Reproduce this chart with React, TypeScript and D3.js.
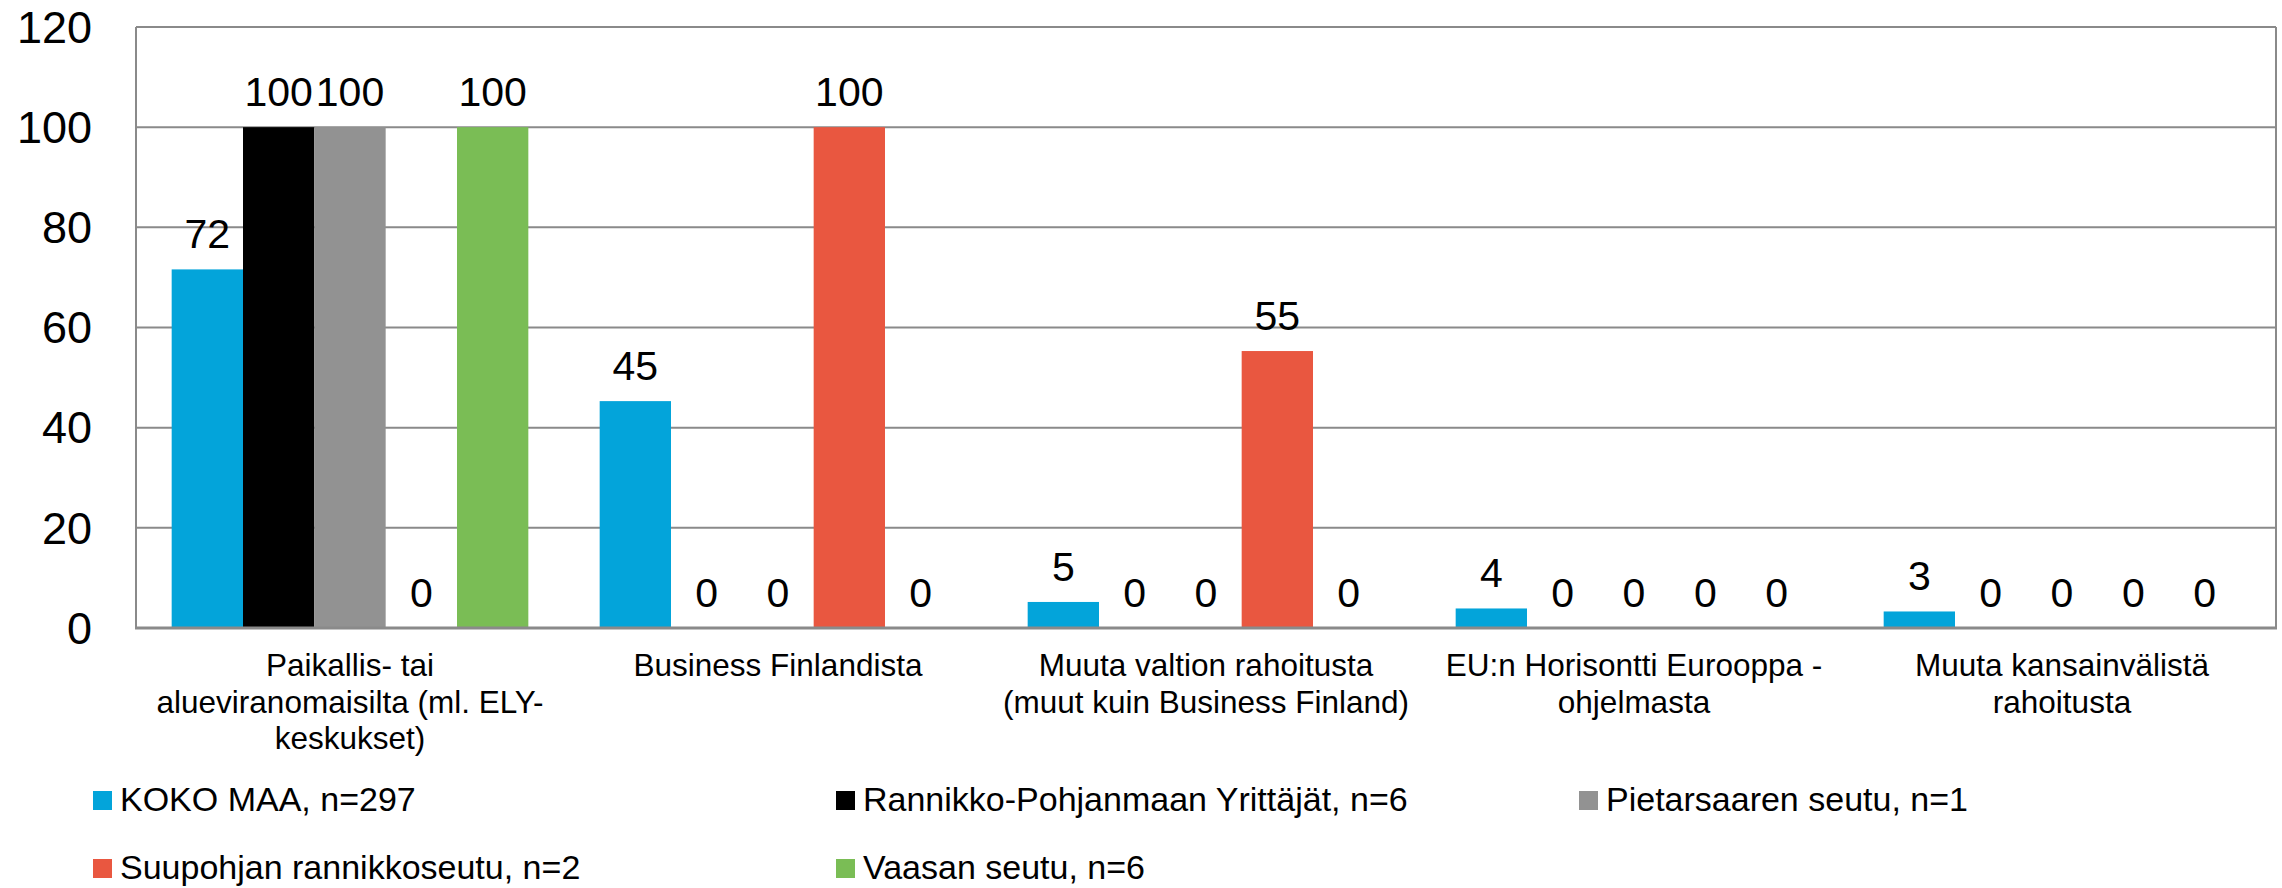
import React, { useEffect, useRef } from 'react';
import { select, scaleBand, scaleLinear, format } from 'd3';

// categories (line breaks as in the original chart)
const categories = [
  'Paikallis- tai\nalueviranomaisilta (ml. ELY-\nkeskukset)',
  'Business Finlandista',
  'Muuta valtion rahoitusta\n(muut kuin Business Finland)',
  'EU:n Horisontti Eurooppa -\nohjelmasta',
  'Muuta kansainvälistä\nrahoitusta',
];

const seriesNames = [
  'KOKO MAA, n=297',
  'Rannikko-Pohjanmaan Yrittäjät, n=6',
  'Pietarsaaren seutu, n=1',
  'Suupohjan rannikkoseutu, n=2',
  'Vaasan seutu, n=6',
];

const kokoMaa = [71.6, 45.3, 5.2, 3.9, 3.3];
const rannikko = [100, 0, 0, 0, 0];
const pietarsaari = [100, 0, 0, 0, 0];
const suupohja = [0, 100, 55.3, 0, 0];
const vaasa = [100, 0, 0, 0, 0];

const seriesValues = [kokoMaa, rannikko, pietarsaari, suupohja, vaasa];
const seriesColors = ['#03a4da', '#000000', '#929292', '#e95740', '#7abd55'];

const yTicks = [0, 20, 40, 60, 80, 100, 120];

const W = 2282;
const H = 888;
const FONT = '"Liberation Sans", Arial, sans-serif';

const App = () => {
  const svgRef = useRef(null);

  useEffect(() => {
    document.body.style.margin = '0';
    const svg = select(svgRef.current);
    svg.selectAll('*').remove();

    const left = 136, right = 2276, top = 27, bottom = 628;

    const x0 = scaleBand().domain(categories).range([left, right]).padding(0);
    const x1 = scaleBand()
      .domain(seriesNames)
      .range([0, x0.bandwidth()])
      .paddingInner(0)
      .paddingOuter(0.5);
    const y = scaleLinear().domain([0, 120]).range([bottom, top]);
    const fmt = format('.0f');

    // gridlines
    svg.append('g')
      .selectAll('line')
      .data(yTicks.filter(t => t > 0))
      .join('line')
      .attr('x1', left)
      .attr('x2', right)
      .attr('y1', d => y(d))
      .attr('y2', d => y(d))
      .attr('stroke', '#8a8a8a')
      .attr('stroke-width', 2);

    // plot frame left/right
    svg.append('line')
      .attr('x1', left).attr('x2', left)
      .attr('y1', y(120)).attr('y2', y(0))
      .attr('stroke', '#8a8a8a').attr('stroke-width', 2);
    svg.append('line')
      .attr('x1', right).attr('x2', right)
      .attr('y1', y(120)).attr('y2', y(0))
      .attr('stroke', '#8a8a8a').attr('stroke-width', 2);

    // y tick labels
    svg.append('g')
      .selectAll('text')
      .data(yTicks)
      .join('text')
      .attr('x', 92)
      .attr('y', d => y(d))
      .attr('dy', '0.35em')
      .attr('text-anchor', 'end')
      .attr('font-family', FONT)
      .attr('font-size', 45)
      .attr('fill', '#000')
      .text(d => d);

    // bars
    const groups = svg.append('g')
      .selectAll('g')
      .data(categories)
      .join('g')
      .attr('transform', d => `translate(${x0(d)},0)`);

    groups.selectAll('rect')
      .data((d, i) => seriesNames.map((s, j) => ({ s, v: seriesValues[j][i], c: seriesColors[j] })))
      .join('rect')
      .attr('x', d => x1(d.s))
      .attr('y', d => y(d.v))
      .attr('width', x1.bandwidth())
      .attr('height', d => y(0) - y(d.v))
      .attr('fill', d => d.c);

    groups.selectAll('text')
      .data((d, i) => seriesNames.map((s, j) => ({ s, v: seriesValues[j][i] })))
      .join('text')
      .attr('x', d => x1(d.s) + x1.bandwidth() / 2)
      .attr('y', d => y(d.v) - 21)
      .attr('text-anchor', 'middle')
      .attr('font-family', FONT)
      .attr('font-size', 41)
      .attr('fill', '#000')
      .text(d => fmt(d.v));

    // zero axis
    svg.append('line')
      .attr('x1', left - 1).attr('x2', right + 1)
      .attr('y1', y(0)).attr('y2', y(0))
      .attr('stroke', '#8a8a8a').attr('stroke-width', 3);

    // category labels
    const catLabels = svg.append('g')
      .selectAll('text')
      .data(categories)
      .join('text')
      .attr('x', d => x0(d) + x0.bandwidth() / 2)
      .attr('y', 676)
      .attr('text-anchor', 'middle')
      .attr('font-family', FONT)
      .attr('font-size', 31.5)
      .attr('fill', '#000');
    catLabels.selectAll('tspan')
      .data(d => d.split('\n'))
      .join('tspan')
      .attr('x', function () { return select(this.parentNode).attr('x'); })
      .attr('dy', (d, i) => (i === 0 ? 0 : 36.5))
      .text(d => d);

    // legend
    const legend = svg.append('g')
      .selectAll('g')
      .data(seriesNames)
      .join('g')
      .attr('transform', (d, i) => `translate(${93 + (i % 3) * 743},${811 + Math.floor(i / 3) * 68})`);
    legend.append('rect')
      .attr('x', 0)
      .attr('y', -20)
      .attr('width', 19)
      .attr('height', 19)
      .attr('fill', (d, i) => seriesColors[i]);
    legend.append('text')
      .attr('x', 27)
      .attr('y', 0)
      .attr('font-family', FONT)
      .attr('font-size', 34)
      .attr('fill', '#000')
      .text(d => d);
  }, []);

  return (
    <svg ref={svgRef} width={W} height={H} style={{ display: 'block', background: '#fff' }} />
  );
};

export default App;
